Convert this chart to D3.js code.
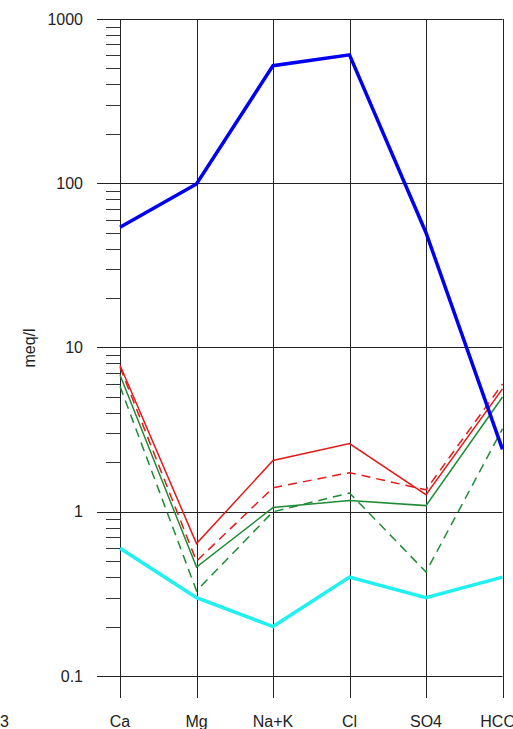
<!DOCTYPE html>
<html>
<head>
<meta charset="utf-8">
<script src="https://cdn.jsdelivr.net/npm/d3@7"></script>
<style>
  body { margin: 0; background: #fff; }
  svg { display: block; font-family: Arial, "Liberation Sans", sans-serif; }
</style>
</head>
<body>
<div id="chart"></div>
<script>
// ions along the x axis
const ions = ["Ca", "Mg", "Na+K", "Cl", "SO4", "HCO3"];
// concentrations in meq/l
const blueSample = [54, 99, 520, 605, 50, 2.4];
const cyanSample = [0.6, 0.3, 0.2, 0.4, 0.3, 0.4];
const redSolid = [7.8, 0.64, 2.05, 2.6, 1.27, 5.6];
const redDashed = [7.6, 0.5, 1.4, 1.73, 1.36, 6.0];
const greenSolid = [6.8, 0.46, 1.06, 1.17, 1.09, 5.0];
const greenDashed = [5.8, 0.33, 1.0, 1.3, 0.43, 3.2];
const yTicks = [0.1, 1, 10, 100, 1000];
const yTickLabels = ["0.1", "1", "10", "100", "1000"];

const series = [
    { values: redSolid, color: "#e21a1a", width: 1.5, dash: null },
    { values: redDashed, color: "#e21a1a", width: 1.5, dash: "9,6" },
    { values: greenSolid, color: "#1f8b36", width: 1.5, dash: null },
    { values: greenDashed, color: "#1f8b36", width: 1.5, dash: "9,6" },
    { values: cyanSample, color: "#1ff0f0", width: 3.5, dash: null },
    { values: blueSample, color: "#0000f0", width: 3.5, dash: null }
];

const width = 513, height = 729;
const plot = { left: 120, right: 502.5, top: 19, bottom: 676 };

const svg = d3.select("#chart")
    .append("svg")
    .attr("width", width)
    .attr("height", height);

const x = d3.scalePoint()
    .domain(ions)
    .range([plot.left, plot.right]);

const y = d3.scaleLog()
    .domain([0.1, 1000])
    .range([plot.bottom, plot.top]);

// minor ticks on the left of the y axis
const minor = [];
[0.1, 1, 10, 100].forEach(d => {
    for (let k = 2; k <= 9; k++) minor.push(d * k);
});

svg.append("g")
    .selectAll("line")
    .data(minor)
    .join("line")
    .attr("x1", 106)
    .attr("x2", plot.left)
    .attr("y1", d => Math.round(y(d)) + 0.5)
    .attr("y2", d => Math.round(y(d)) + 0.5)
    .attr("stroke", "#333")
    .attr("stroke-width", 1);

// horizontal decade grid lines
svg.append("g")
    .selectAll("line")
    .data(yTicks)
    .join("line")
    .attr("x1", 97)
    .attr("x2", plot.right)
    .attr("y1", d => Math.round(y(d)) + 0.5)
    .attr("y2", d => Math.round(y(d)) + 0.5)
    .attr("stroke", "#222")
    .attr("stroke-width", 1);

// vertical lines for each ion
svg.append("g")
    .selectAll("line")
    .data(ions)
    .join("line")
    .attr("x1", d => Math.round(x(d)) + 0.5)
    .attr("x2", d => Math.round(x(d)) + 0.5)
    .attr("y1", plot.top)
    .attr("y2", 698)
    .attr("stroke", "#222")
    .attr("stroke-width", 1);

// y tick labels
svg.append("g")
    .selectAll("text")
    .data(yTicks)
    .join("text")
    .attr("x", 83)
    .attr("y", d => y(d) + 5.5)
    .attr("text-anchor", "end")
    .attr("font-size", 16)
    .attr("fill", "#222")
    .text((d, i) => yTickLabels[i]);

// x labels
svg.append("g")
    .selectAll("text")
    .data(ions)
    .join("text")
    .attr("x", d => x(d))
    .attr("y", 727)
    .attr("text-anchor", "middle")
    .attr("font-size", 16)
    .attr("fill", "#222")
    .text(d => d);

// piece of the neighbouring panel's last label
svg.append("text")
    .attr("x", 9)
    .attr("y", 727)
    .attr("text-anchor", "end")
    .attr("font-size", 16)
    .attr("fill", "#222")
    .text(ions[ions.length - 1]);

svg.append("text")
    .attr("transform", "translate(35,348) rotate(-90)")
    .attr("text-anchor", "middle")
    .attr("font-size", 16)
    .attr("fill", "#222")
    .text("meq/l");

const line = d3.line()
    .x((d, i) => x(ions[i]))
    .y(d => y(d));

svg.append("g")
    .selectAll("path")
    .data(series)
    .join("path")
    .attr("fill", "none")
    .attr("stroke", d => d.color)
    .attr("stroke-width", d => d.width)
    .attr("stroke-dasharray", d => d.dash)
    .attr("stroke-linejoin", "miter")
    .attr("d", d => line(d.values));
</script>
</body>
</html>
